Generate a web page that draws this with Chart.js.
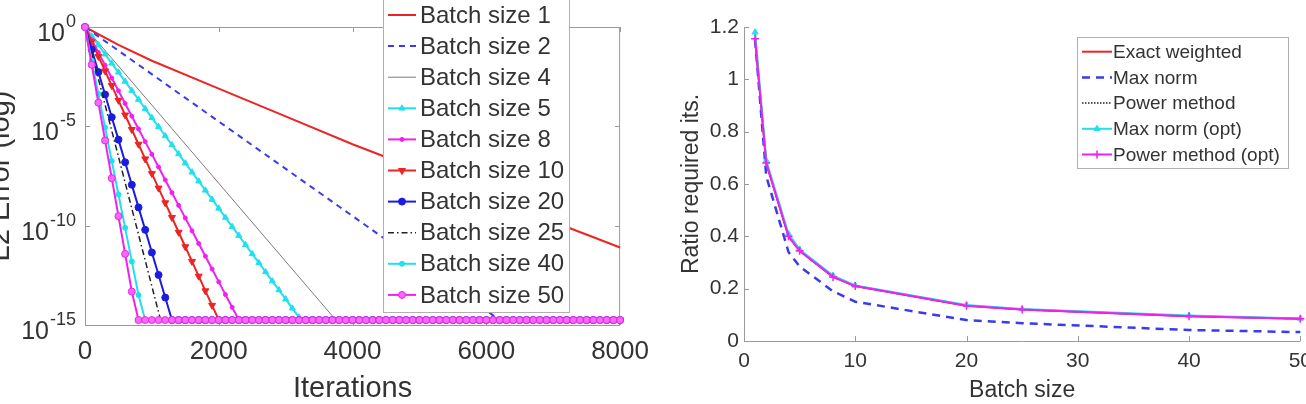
<!DOCTYPE html>
<html>
<head>
<meta charset="utf-8">
<script src="https://cdn.jsdelivr.net/npm/chart.js@4.4.1/dist/chart.umd.min.js"></script>
<style>
  html,body{margin:0;padding:0;background:#fff;}
  body{width:1306px;height:404px;position:relative;overflow:hidden;}
  canvas{position:absolute;top:0;}
  #errChart{left:0;}
  #ratioChart{left:650px;}
</style>
</head>
<body>
<canvas id="errChart" width="660" height="404"></canvas>
<canvas id="ratioChart" width="670" height="404"></canvas>
<script>
const FONT = '"Liberation Sans", Arial, Helvetica, sans-serif';
const TEXT = '#333333';
const AXIS = '#9a9a9a';
const TICK = 5;

// ---- left panel: L2 error (log10 exponents) vs iterations ----
const batchLabels = ['Batch size 1','Batch size 2','Batch size 4','Batch size 5','Batch size 8',
                     'Batch size 10','Batch size 20','Batch size 25','Batch size 40','Batch size 50'];
const ITER_MAX = 8000;
const MARK_STEP = 100;      // marker spacing (iterations)
const FLOOR_EXP = -14.75;   // error floor the runs settle on
const iterTicks = [0, 2000, 4000, 6000, 8000];
const errTickExps = [0, -5, -10, -15];

// lines without markers: [iteration] / [log10 error]
const b1Its  = [0, 500, 1000, 2000, 3000, 4000, 5000, 6000, 7000, 8000];
const b1Exp  = [0, -0.9, -1.7, -3.1, -4.5, -5.9, -7.2, -8.5, -9.8, -11.1];
const b2Its  = [0, 6200, 8000];
const b2Exp  = [0, -14.75, -14.75];
const b4Its  = [0, 3750, 8000];
const b4Exp  = [0, -14.75, -14.75];
const b25Its = [0, 1130, 8000];
const b25Exp = [0, -14.75, -14.75];

// lines with markers: log10 error every MARK_STEP iterations until the floor
const b5Exp  = [0, -0.46, -0.91, -1.37, -1.83, -2.28, -2.74, -3.2, -3.65, -4.11, -4.57, -5.02, -5.48,
                -5.94, -6.39, -6.85, -7.31, -7.76, -8.22, -8.68, -9.13, -9.59, -10.05, -10.5, -10.96,
                -11.42, -11.87, -12.33, -12.79, -13.24, -13.7, -14.16, -14.61];
const b8Exp  = [0, -0.64, -1.28, -1.92, -2.57, -3.21, -3.85, -4.49, -5.13, -5.77, -6.41, -7.05, -7.7,
                -8.34, -8.98, -9.62, -10.26, -10.9, -11.54, -12.18, -12.83, -13.47, -14.11];
const b10Exp = [0, -0.74, -1.48, -2.21, -2.95, -3.69, -4.43, -5.16, -5.9, -6.64, -7.38, -8.11, -8.85,
                -9.59, -10.33, -11.06, -11.8, -12.54, -13.28, -14.01];
const b20Exp = [0, -1.13, -2.27, -3.4, -4.54, -5.67, -6.81, -7.94, -9.08, -10.21, -11.35, -12.48, -13.62];
const b40Exp = [0, -1.69, -3.37, -5.06, -6.74, -8.43, -10.11, -11.8, -13.49];
const b50Exp = [0, -1.9, -3.81, -5.71, -7.61, -9.52, -11.42, -13.32];

// ---- right panel: ratio of required iterations vs batch size ----
const batchSizes      = [1, 2, 4, 5, 8, 10, 20, 25, 40, 50];
const ratioLabels     = ['Exact weighted','Max norm','Power method','Max norm (opt)','Power method (opt)'];
const exactWeighted   = [1.155, 0.68, 0.40, 0.345, 0.245, 0.21, 0.135, 0.12, 0.095, 0.085];
const maxNorm         = [1.15, 0.63, 0.34, 0.285, 0.19, 0.15, 0.08, 0.068, 0.042, 0.034];
const powerMethod     = [1.155, 0.68, 0.40, 0.345, 0.245, 0.21, 0.135, 0.12, 0.095, 0.085];
const maxNormOpt      = [1.18, 0.69, 0.41, 0.35, 0.25, 0.212, 0.138, 0.122, 0.097, 0.086];
const powerMethodOpt  = [1.155, 0.68, 0.40, 0.345, 0.245, 0.21, 0.135, 0.12, 0.095, 0.085];
const ratioXTicks     = [0, 10, 20, 30, 40, 50];
const ratioYTicks     = [0, 0.2, 0.4, 0.6, 0.8, 1, 1.2];

function fromPairs(its, exps){ return its.map((x,i)=>({x, y: Math.pow(10, exps[i])})); }
function fromMarked(exps){
  const pts = exps.map((e,i)=>({x: i*MARK_STEP, y: Math.pow(10, e)}));
  for(let x = exps.length*MARK_STEP; x <= ITER_MAX; x += MARK_STEP) pts.push({x, y: Math.pow(10, FLOOR_EXP)});
  return pts;
}

const RED='#ee2424', BLUE_D='#3b3bee', GRAY='#7a7a7a', CYAN='#20e0ee', MAG='#f020f0', BLUE='#1c1ce0', BLACK='#222222';

const errSeries = [fromPairs(b1Its,b1Exp), fromPairs(b2Its,b2Exp), fromPairs(b4Its,b4Exp), fromMarked(b5Exp),
                   fromMarked(b8Exp), fromMarked(b10Exp), fromMarked(b20Exp), fromPairs(b25Its,b25Exp),
                   fromMarked(b40Exp), fromMarked(b50Exp)];
const errStyles = [
  {c:RED, w:2},
  {c:BLUE_D, w:2, dash:[6,5]},
  {c:GRAY, w:1},
  {c:CYAN, w:2, pt:'triangle', r:3.5},
  {c:MAG, w:2, pt:'circle', r:2},
  {c:RED, w:2, pt:'triangle', r:4, rot:180},
  {c:BLUE, w:2, pt:'circle', r:3.5},
  {c:BLACK, w:1.5, dash:[6,3,1.5,3]},
  {c:CYAN, w:2, pt:'circle', r:2.5},
  {c:MAG, w:2, pt:'circle', r:3.5, fill:'#f46af4'}
];

function makeDataset(label, data, s, i){
  return {
    label, data,
    borderColor: s.c, backgroundColor: s.c, borderWidth: s.w, borderDash: s.dash || [],
    pointStyle: s.pt || 'circle', pointRadius: s.r || 0, pointHoverRadius: s.r || 0,
    pointBackgroundColor: s.fill || s.c, pointBorderColor: s.c, pointBorderWidth: s.pbw || 1,
    pointRotation: s.rot || 0, tension: 0, clip: false, order: -i
  };
}

function drawLegend(chart, L){
  const ctx = chart.ctx;
  ctx.save();
  ctx.fillStyle = '#fff'; ctx.fillRect(L.x, L.y, L.w, L.h);
  ctx.strokeStyle = '#b0b0b0'; ctx.lineWidth = 1; ctx.strokeRect(L.x+0.5, L.y+0.5, L.w, L.h);
  chart.data.datasets.forEach((ds,i)=>{
    const y = L.row0 + i*L.gap;
    ctx.save();
    ctx.strokeStyle = ds.borderColor; ctx.lineWidth = ds.borderWidth; ctx.setLineDash(ds.borderDash || []);
    ctx.beginPath(); ctx.moveTo(L.x1, y); ctx.lineTo(L.x2, y); ctx.stroke();
    ctx.setLineDash([]);
    if(ds.pointRadius > 0){
      ctx.fillStyle = ds.pointBackgroundColor; ctx.strokeStyle = ds.pointBorderColor; ctx.lineWidth = ds.pointBorderWidth;
      const opts = {pointStyle: ds.pointStyle, radius: ds.pointRadius, rotation: ds.pointRotation, borderWidth: ds.pointBorderWidth};
      if(Chart.helpers && Chart.helpers.drawPoint) Chart.helpers.drawPoint(ctx, opts, (L.x1+L.x2)/2, y);
      else { ctx.beginPath(); ctx.arc((L.x1+L.x2)/2, y, ds.pointRadius, 0, Math.PI*2); ctx.fill(); ctx.stroke(); }
    }
    ctx.restore();
    ctx.fillStyle = TEXT; ctx.font = `${L.size}px ${FONT}`; ctx.textAlign = 'left'; ctx.textBaseline = 'middle';
    ctx.fillText(ds.label, L.tx, y + 1);
  });
  ctx.restore();
}

function decor(cfg){
  return {
    id: 'decor',
    beforeDatasetsDraw(chart){
      const {ctx, chartArea: a} = chart;
      const xs = chart.scales.x, ys = chart.scales.y;
      ctx.save();
      ctx.strokeStyle = AXIS; ctx.lineWidth = 1;
      ctx.beginPath();
      ctx.moveTo(a.left+0.5, a.top); ctx.lineTo(a.left+0.5, a.bottom+0.5); ctx.lineTo(a.right, a.bottom+0.5);
      if(cfg.box){ ctx.moveTo(a.left, a.top+0.5); ctx.lineTo(a.right-0.5, a.top+0.5); ctx.lineTo(a.right-0.5, a.bottom); }
      cfg.xTicks.forEach(v=>{
        const px = Math.round(xs.getPixelForValue(v)) + 0.5;
        ctx.moveTo(px, a.bottom); ctx.lineTo(px, a.bottom - TICK);
        if(cfg.box){ ctx.moveTo(px, a.top); ctx.lineTo(px, a.top + TICK); }
      });
      cfg.yTicks.forEach(v=>{
        const py = Math.round(ys.getPixelForValue(v)) + 0.5;
        ctx.moveTo(a.left, py); ctx.lineTo(a.left + TICK, py);
        if(cfg.box){ ctx.moveTo(a.right, py); ctx.lineTo(a.right - TICK, py); }
      });
      ctx.stroke();
      ctx.restore();
    },
    afterDraw(chart){
      if(cfg.after) cfg.after(chart);
      drawLegend(chart, cfg.legend);
    }
  };
}

function drawErrTicks(chart){
  const ctx = chart.ctx, ys = chart.scales.y;
  ctx.save();
  ctx.fillStyle = TEXT; ctx.textBaseline = 'middle'; ctx.textAlign = 'right';
  errTickExps.forEach(e=>{
    const y = ys.getPixelForValue(Math.pow(10, e));
    const sup = String(e);
    ctx.font = `18px ${FONT}`;
    const w = ctx.measureText(sup).width;
    ctx.fillText(sup, 76, y - 5);
    ctx.font = `25px ${FONT}`;
    ctx.fillText('10', 76 - w - 1, y + 7);
  });
  ctx.restore();
}

const errChart = new Chart(document.getElementById('errChart'), {
  type: 'line',
  data: { datasets: errSeries.map((d,i)=>makeDataset(batchLabels[i], d, errStyles[i], i)) },
  options: {
    responsive: false, animation: false, devicePixelRatio: 1,
    layout: { padding: {top: 27, right: 31, left: 0, bottom: 0}, autoPadding: false },
    plugins: { legend: {display: false}, tooltip: {enabled: false} },
    scales: {
      x: { type: 'linear', min: 0, max: ITER_MAX,
           afterBuildTicks: s => { s.ticks = iterTicks.map(v=>({value: v})); },
           ticks: { font: {family: FONT, size: 26}, color: TEXT, padding: 11, maxRotation: 0, autoSkip: false, callback: v => String(v) },
           grid: { display: false, drawTicks: false }, border: { display: false },
           title: { display: true, text: 'Iterations', color: TEXT, font: {family: FONT, size: 29, lineHeight: 1}, padding: {top: 0, bottom: 0.5} },
           afterFit: s => { s.height = 79; } },
      y: { type: 'logarithmic', min: 1e-15, max: 1,
           ticks: { display: false }, grid: { display: false, drawTicks: false }, border: { display: false },
           title: { display: true, text: 'L2 Error (log)', color: TEXT, font: {family: FONT, size: 29, lineHeight: 1}, padding: {top: -14, bottom: 0} },
           afterFit: s => { s.width = 85; } }
    }
  },
  plugins: [decor({
    box: true, xTicks: iterTicks, yTicks: errTickExps.map(e=>Math.pow(10, e)), after: drawErrTicks,
    legend: {x: 383, y: -5, w: 186, h: 317, row0: 15, gap: 31.1, x1: 388, x2: 416, tx: 420, size: 24}
  })]
});

const ratioValues = [exactWeighted, maxNorm, powerMethod, maxNormOpt, powerMethodOpt];
const ratioStyles = [
  {c: RED, w: 2},
  {c: BLUE_D, w: 2.5, dash: [8,6]},
  {c: BLACK, w: 1.5, dash: [1.5,1.5]},
  {c: CYAN, w: 2, pt: 'triangle', r: 3.5},
  {c: MAG, w: 2, pt: 'cross', r: 4, pbw: 1.5}
];

const ratioChart = new Chart(document.getElementById('ratioChart'), {
  type: 'line',
  data: { datasets: ratioValues.map((vals,i)=>makeDataset(ratioLabels[i], vals.map((v,j)=>({x: batchSizes[j], y: v})), ratioStyles[i], i)) },
  options: {
    responsive: false, animation: false, devicePixelRatio: 1,
    layout: { padding: {top: 27, right: 13, left: 0, bottom: 0}, autoPadding: false },
    plugins: { legend: {display: false}, tooltip: {enabled: false} },
    scales: {
      x: { type: 'linear', min: 0, max: 50,
           afterBuildTicks: s => { s.ticks = ratioXTicks.map(v=>({value: v})); },
           ticks: { font: {family: FONT, size: 21}, color: TEXT, padding: 8, maxRotation: 0, autoSkip: false, callback: v => String(v) },
           grid: { display: false, drawTicks: false }, border: { display: false },
           title: { display: true, text: 'Batch size', color: TEXT, font: {family: FONT, size: 23, lineHeight: 1}, padding: {top: 0, bottom: 1.5} },
           afterFit: s => { s.height = 63; } },
      y: { type: 'linear', min: 0, max: 1.2,
           afterBuildTicks: s => { s.ticks = ratioYTicks.map(v=>({value: v})); },
           ticks: { font: {family: FONT, size: 21}, color: TEXT, padding: 5, autoSkip: false, callback: v => String(Number(v.toFixed(1))) },
           grid: { display: false, drawTicks: false }, border: { display: false },
           title: { display: true, text: 'Ratio required its.', color: TEXT, font: {family: FONT, size: 23, lineHeight: 1}, padding: {top: 30.5, bottom: 0} },
           afterFit: s => { s.width = 94; } }
    }
  },
  plugins: [decor({
    box: false, xTicks: ratioXTicks, yTicks: ratioYTicks,
    legend: {x: 427, y: 37, w: 211, h: 131, row0: 51.7, gap: 25.7, x1: 432, x2: 462, tx: 463, size: 19}
  })]
});
</script>
</body>
</html>
